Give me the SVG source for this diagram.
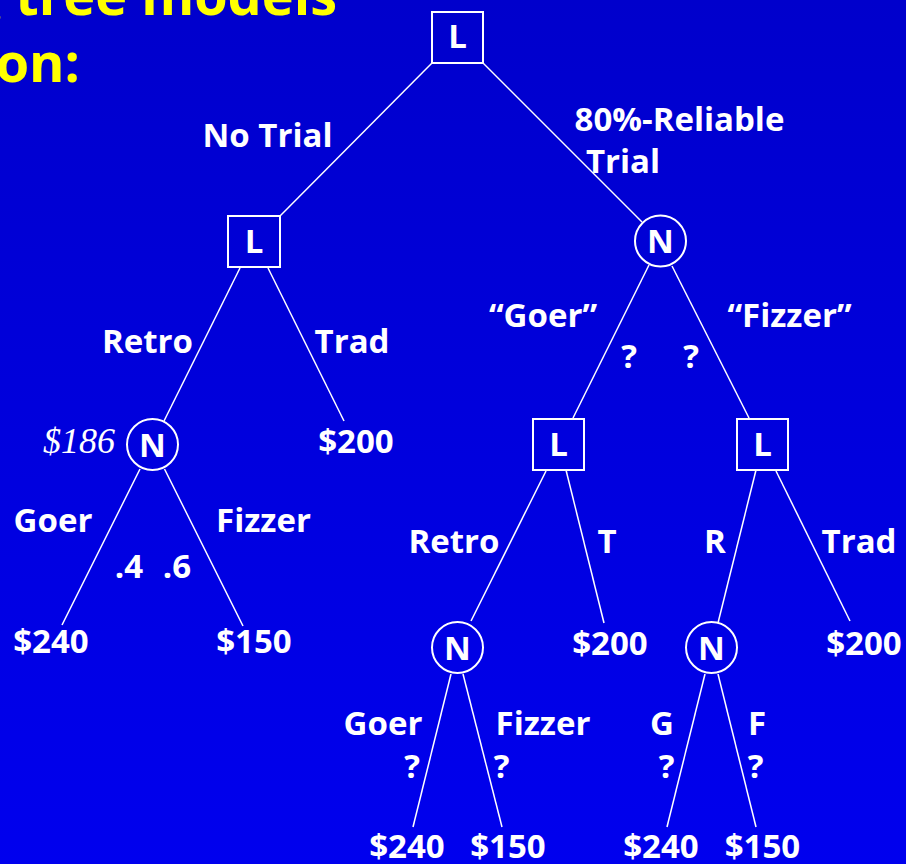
<svg xmlns="http://www.w3.org/2000/svg" width="906" height="864" viewBox="0 0 906 864">
<defs>
<linearGradient id="bg" x1="0" y1="0" x2="0" y2="1">
<stop offset="0" stop-color="#0000CC"/>
<stop offset="1" stop-color="#0000EE"/>
</linearGradient>
<style>
.box{fill:none;stroke:#FFFFFF;stroke-width:2}
.circ{fill:none;stroke:#FFFFFF;stroke-width:2}
.node{font-family:"Open Sans","Liberation Sans",sans-serif;font-weight:700;font-size:33px;fill:#FFFFFF;text-anchor:middle}
.lbl{font-family:"Open Sans","Liberation Sans",sans-serif;font-weight:700;font-size:33px;fill:#FFFFFF;text-anchor:middle}
.val{font-family:"Liberation Serif","DejaVu Serif",serif;font-style:italic;font-size:36px;fill:#FFFFFF;text-anchor:end}
.title{font-family:"Open Sans","Liberation Sans",sans-serif;font-weight:700;font-size:54px;fill:#FFFF00;text-anchor:end}
.conn line{stroke:#FFFFFF;stroke-width:1.5}
</style>
</defs>
<rect x="0" y="0" width="906" height="864" fill="url(#bg)"/>
<g id="title">
<text class="title" x="337" y="15">g tree models</text>
<text class="title" x="80" y="82">on:</text>
</g>
<g id="connectors" class="conn">
<line x1="432" y1="63" x2="280" y2="216"/>
<line x1="483" y1="63" x2="642" y2="222"/>
<line x1="240" y1="268" x2="164" y2="421"/>
<line x1="268" y1="268" x2="344" y2="421"/>
<line x1="140" y1="469" x2="62" y2="625"/>
<line x1="164.5" y1="469" x2="243" y2="626"/>
<line x1="649" y1="265" x2="573" y2="418"/>
<line x1="672" y1="266" x2="749" y2="418"/>
<line x1="546" y1="471" x2="471" y2="621"/>
<line x1="566" y1="470" x2="604" y2="623"/>
<line x1="756" y1="470" x2="718" y2="623"/>
<line x1="776" y1="471" x2="850" y2="621"/>
<line x1="451" y1="674" x2="413" y2="827"/>
<line x1="463" y1="674" x2="502" y2="827"/>
<line x1="705" y1="674" x2="667" y2="827"/>
<line x1="718" y1="674" x2="756" y2="827"/>
</g>
<g id="n-root"><rect class="box" x="432" y="12" width="51" height="51"/><text class="node" x="457.5" y="48">L</text></g>
<g id="n-notrial"><rect class="box" x="228" y="216" width="52" height="51"/><text class="node" x="254" y="253">L</text></g>
<g id="n-trial"><circle class="circ" cx="660.5" cy="241" r="25.5"/><text class="node" x="660.5" y="253">N</text></g>
<g id="n-retro1"><circle class="circ" cx="152.5" cy="444.5" r="25.5"/><text class="node" x="152.5" y="456.5">N</text></g>
<g id="n-goer"><rect class="box" x="533" y="419" width="51" height="51"/><text class="node" x="558.5" y="456">L</text></g>
<g id="n-fizzer"><rect class="box" x="737" y="419" width="51" height="51"/><text class="node" x="762.5" y="456">L</text></g>
<g id="n-retro2"><circle class="circ" cx="457.5" cy="647.5" r="25.5"/><text class="node" x="457.5" y="659.5">N</text></g>
<g id="n-retro3"><circle class="circ" cx="711.5" cy="647.5" r="25.5"/><text class="node" x="711.5" y="659.5">N</text></g>
<g id="labels">
<text class="lbl" x="267.5" y="147">No Trial</text>
<text class="lbl" x="679.5" y="131">80%-Reliable</text>
<text class="lbl" x="623" y="173">Trial</text>
<text class="lbl" x="543" y="327">“Goer”</text>
<text class="lbl" x="789.5" y="327">“Fizzer”</text>
<text class="lbl" x="629" y="368">?</text>
<text class="lbl" x="691" y="368">?</text>
<text class="lbl" x="147.5" y="353">Retro</text>
<text class="lbl" x="352" y="353">Trad</text>
<text class="val" x="115" y="453">$186</text>
<text class="lbl" x="356" y="453">$200</text>
<text class="lbl" x="53" y="532">Goer</text>
<text class="lbl" x="263.5" y="532">Fizzer</text>
<text class="lbl" x="129" y="578">.4</text>
<text class="lbl" x="177" y="578">.6</text>
<text class="lbl" x="51" y="653">$240</text>
<text class="lbl" x="254" y="653">$150</text>
<text class="lbl" x="454" y="553">Retro</text>
<text class="lbl" x="607" y="553">T</text>
<text class="lbl" x="715" y="553">R</text>
<text class="lbl" x="859" y="553">Trad</text>
<text class="lbl" x="610" y="655">$200</text>
<text class="lbl" x="864" y="655">$200</text>
<text class="lbl" x="383" y="735">Goer</text>
<text class="lbl" x="543" y="735">Fizzer</text>
<text class="lbl" x="662" y="735">G</text>
<text class="lbl" x="757" y="735">F</text>
<text class="lbl" x="412" y="778">?</text>
<text class="lbl" x="501.5" y="778">?</text>
<text class="lbl" x="666.5" y="778">?</text>
<text class="lbl" x="755.5" y="778">?</text>
<text class="lbl" x="407" y="858">$240</text>
<text class="lbl" x="508" y="858">$150</text>
<text class="lbl" x="661" y="858">$240</text>
<text class="lbl" x="762.5" y="858">$150</text>
</g>
</svg>
